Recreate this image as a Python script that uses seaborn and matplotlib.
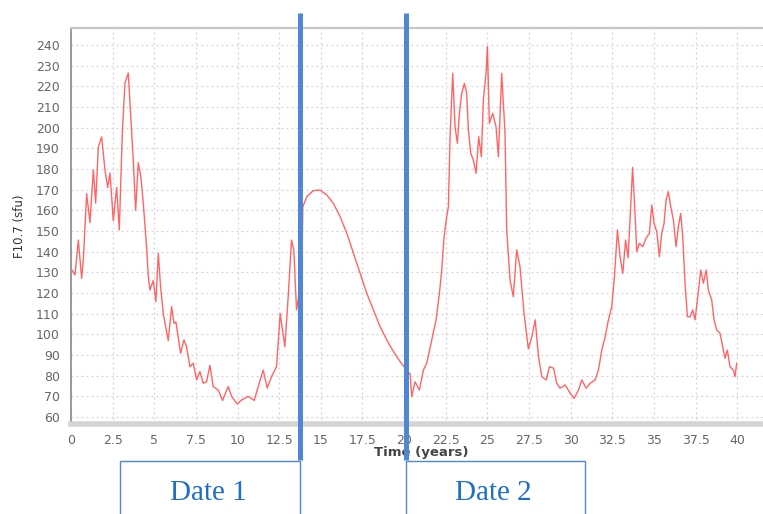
# f107_forecast.py
# F10.7 solar flux over time, with the two marked dates

import pandas as pd
import seaborn as sns
import matplotlib.pyplot as plt
from matplotlib.patches import Rectangle

# ---- data ----
time_years = [
    0.08, 0.24, 0.44, 0.64, 0.74, 0.94, 1.14, 1.34, 1.48, 1.64, 1.84, 2.04, 2.2, 2.34,
    2.54, 2.74, 2.9, 3.08, 3.24, 3.44, 3.54, 3.74, 3.88, 4.04, 4.2, 4.34, 4.54, 4.64,
    4.74, 4.94, 5.1, 5.24, 5.38, 5.54, 5.84, 6.04, 6.18, 6.3, 6.58, 6.78, 6.94, 7.14,
    7.34, 7.54, 7.74, 7.94, 8.14, 8.34, 8.54, 8.84, 9.1, 9.44, 9.64, 9.98, 10.24, 10.64,
    11.0, 11.24, 11.54, 11.78, 12.04, 12.34, 12.56, 12.7, 12.84, 13.04, 13.24, 13.38,
    13.54, 13.7, 13.86, 13.92, 14.16, 14.55, 14.95, 15.36, 15.75, 16.16, 16.56, 16.96,
    17.36, 17.76, 18.16, 18.56, 18.96, 19.36, 19.76, 20.0, 20.2, 20.36, 20.46, 20.66,
    20.92, 21.16, 21.36, 21.66, 21.92, 22.12, 22.26, 22.4, 22.56, 22.66, 22.76, 22.92,
    23.06, 23.2, 23.32, 23.46, 23.62, 23.76, 23.86, 24.0, 24.16, 24.32, 24.48, 24.64,
    24.76, 24.92, 25.0, 25.12, 25.32, 25.52, 25.66, 25.86, 26.06, 26.16, 26.36, 26.56,
    26.76, 26.96, 27.2, 27.46, 27.67, 27.87, 28.07, 28.27, 28.53, 28.73, 28.97, 29.17,
    29.37, 29.67, 29.97, 30.21, 30.47, 30.67, 30.93, 31.17, 31.47, 31.67, 31.87, 32.07,
    32.27, 32.47, 32.63, 32.81, 32.97, 33.13, 33.3, 33.45, 33.6, 33.72, 33.85, 33.97,
    34.13, 34.33, 34.53, 34.73, 34.87, 35.01, 35.17, 35.33, 35.47, 35.61, 35.73, 35.87,
    36.01, 36.17, 36.33, 36.47, 36.61, 36.73, 36.87, 37.01, 37.17, 37.33, 37.47, 37.61,
    37.81, 37.97, 38.14, 38.27, 38.47, 38.61, 38.77, 38.97, 39.13, 39.27, 39.41, 39.57,
    39.77, 39.87, 39.97,
]
f107_sfu = [
    131, 128.7, 145.6, 127, 136, 168, 154, 179.5, 163.5, 190.6, 195.5, 179.5, 171, 178,
    155, 171, 150.5, 197, 221.6, 226.4, 212, 184, 160, 183, 176, 163.5, 142, 128,
    121.4, 126, 115.8, 139.2, 123, 110, 97, 113.4, 105.3, 106, 90.8, 97.3, 94, 84.3,
    86, 78, 82, 76.3, 77, 85, 74.7, 73, 68, 74.7, 70, 66.3, 68.2, 70,
    68, 74.7, 82.7, 74, 79.5, 84.3, 110, 102, 94, 118, 145.6, 140.8,
    111.8, 120, 129.5, 161.7, 166.6, 169.5, 169.8, 167.4, 163.4, 156.9, 148.9, 139.2,
    129.5, 119.8, 111.8, 103.7, 97.3, 91.6, 86.8, 84.3, 82, 81, 69.8, 77,
    73, 82.7, 86, 97.3, 107, 119.8, 131, 147.2, 156.9, 161.7, 195.6, 226.3,
    200.4, 192.4, 206.9, 216.6, 221.4, 216.6, 198.9, 187.6, 184.3, 177.9, 195.6, 185.9,
    213.4, 226.3, 239.2, 202.1, 206.9, 200.4, 185.9, 226.3, 197.2, 150.5, 126.3, 118.2,
    140.8, 132.7, 110.2, 93, 98.8, 107, 89.2, 79.5, 77.9, 84.3, 83.6, 76.3,
    73.9, 75.5, 71.5, 69, 73, 77.9, 73.9, 76.3, 77.9, 82.7, 92.4, 98.8,
    107, 113.4, 127.9, 150.5, 137.5, 129.5, 145.6, 137, 161, 180.7, 161, 140,
    144, 142.4, 146.5, 148.9, 162.6, 153.7, 149.6, 137.5, 148.9, 153.7, 165, 169,
    161.7, 155.3, 142.4, 152.1, 158.5, 147.2, 124.7, 108.5, 108.5, 111.8, 107, 116.6,
    131.1, 124.7, 131.1, 121.4, 116.6, 107, 102.1, 100.5, 94, 88.4, 92.4, 84.3,
    82.7, 79.5, 86,
]

x_ticks = [0, 2.5, 5, 7.5, 10, 12.5, 15, 17.5, 20, 22.5, 25, 27.5, 30, 32.5, 35, 37.5, 40]
x_tick_labels = ["0", "2.5", "5", "7.5", "10", "12.5", "15", "17.5", "20",
                 "22.5", "25", "27.5", "30", "32.5", "35", "37.5", "40"]
y_ticks = list(range(60, 250, 10))

date_markers = [13.75, 20.14]
date_labels = ["Date 1", "Date 2"]

df = pd.DataFrame({"time": time_years, "f107": f107_sfu})

# ---- figure ----
sns.set_style("white")
fig = plt.figure(figsize=(7.63, 5.14), dpi=100)
W, H = 763, 514
ax = fig.add_axes([71 / W, (H - 424) / H, (W - 71) / W, (424 - 28) / H])

sns.lineplot(data=df, x="time", y="f107", ax=ax, color="#ff4a4a",
             linewidth=1.0, alpha=0.85)

ax.set_xlim(0, 41.55)
ax.set_ylim(56.6, 248.2)
ax.set_xticks(x_ticks)
ax.set_xticklabels(x_tick_labels)
ax.set_yticks(y_ticks)

grid_col = "#d6d0dc"
ax.grid(True, color=grid_col, linestyle=(0, (1.5, 2.5)), linewidth=0.9)

ax.spines["right"].set_visible(False)
ax.spines["top"].set_color("#c8c8c8")
ax.spines["top"].set_linewidth(1.6)
ax.spines["bottom"].set_color("#d4d4d4")
ax.spines["bottom"].set_linewidth(4)
ax.spines["left"].set_color("#8a8a8a")
ax.spines["left"].set_linewidth(1.2)

ax.tick_params(axis="x", length=0, pad=7, labelsize=9, labelcolor="#666666")
ax.tick_params(axis="y", direction="out", length=4, width=0.8, color="#999999",
               pad=4, labelsize=9, labelcolor="#666666")

ax.set_xlabel("Time (years)", fontsize=9.5, fontweight="bold", color="#444444")
ax.set_ylabel("F10.7 (sfu)", fontsize=8.5, color="#333333")
ax.xaxis.set_label_coords(0.506, -0.055)
ax.yaxis.set_label_coords(-0.065, 0.5)

# ---- date markers and boxes ----
blue = "#4f87d6"
for x in date_markers:
    ax.axvline(x, ymin=-0.092, ymax=1.038, color=blue, linewidth=3.6,
               solid_capstyle="butt", clip_on=False, zorder=5)

box_left_px = [120, 406]
box_right_px = [300, 585]
for lab, l, r in zip(date_labels, box_left_px, box_right_px):
    fig.add_artist(Rectangle((l / W, -0.05), (r - l) / W, (H - 460.5) / H + 0.05,
                             transform=fig.transFigure, fill=False,
                             edgecolor=blue, linewidth=1.0))
    fig.text((l + r) / 2 / W - 2 / W, (H - 493) / H, lab, ha="center", va="center",
             fontsize=21, color="#1f6fc6", family="Liberation Serif")

fig.savefig("out.png", dpi=100)
